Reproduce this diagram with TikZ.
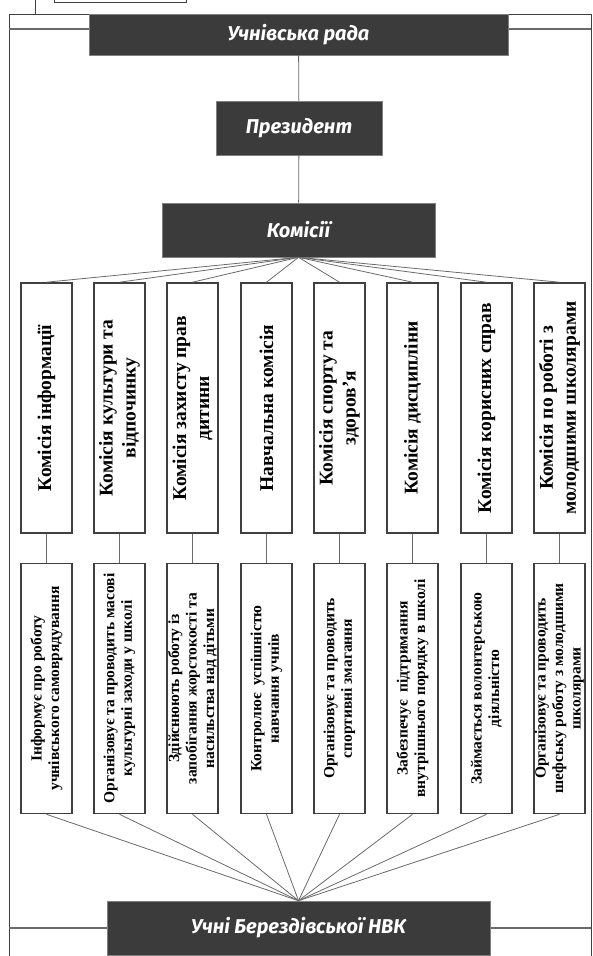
\documentclass[tikz,border=0pt]{standalone}
\usepackage{fontspec}
\setmainfont{Liberation Serif}
\newfontfamily\headfont{Fira Sans}
\definecolor{barfill}{HTML}{3B3B3B}
\definecolor{boxgray}{HTML}{404040}
\definecolor{linegray}{HTML}{6A6A6A}
\newcommand{\vlabel}[1]{\rotatebox{90}{\parbox{240pt}{\centering #1}}}

\begin{document}
\begin{tikzpicture}[x=1pt, y=-1pt]

\tikzset{bar/.style = {fill=barfill, draw=gray, line width=0.6pt, text=white, inner sep=0pt,
  minimum height=54pt, font=\headfont\bfseries\itshape\fontsize{20}{24}\selectfont}}
\tikzset{kbox/.style = {draw=boxgray, line width=1.6pt, fill=white, inner sep=0pt,
  minimum width=51pt, minimum height=250pt, font=\bfseries\fontsize{19.5}{23}\selectfont}}
\tikzset{dbox/.style = {kbox, font=\bfseries\fontsize{15.5}{17.5}\selectfont}}
\tikzset{edge/.style = {draw=linegray, line width=0.8pt}}

\useasboundingbox (0,0) rectangle (592,956);

% frame
\draw[boxgray, line width=0.8pt] (9,956) -- (9,14) -- (591,14) -- (591,956);
\draw[linegray, line width=1.2pt] (9,29) -- (591,29);
\draw[linegray, line width=1.2pt] (9,928) -- (591,928);
\draw[boxgray, line width=0.8pt] (54,-6) rectangle (186,2);
\draw[boxgray, line width=0.8pt] (35,0) -- (35,14);

% vertices
\node[bar, minimum width=419pt, minimum height=41pt] (rada) at (298.5,34.5) {Учнівська рада};
\node[bar, minimum width=166pt] (prez) at (299,128) {Президент};
\node[bar, minimum width=273pt] (kom) at (298.5,230) {Комісії};
\node[bar, minimum width=383pt] (uchni) at (298.5,928) {Учні Берездівської НВК};

\node[kbox] (k1) at (46.5,408) {\vlabel{Комісія інформації}};
\node[kbox] (k2) at (119.5,408) {\vlabel{Комісія культури та\\ відпочинку}};
\node[kbox] (k3) at (192.5,408) {\vlabel{Комісія захисту прав\\ дитини}};
\node[kbox] (k4) at (266.5,408) {\vlabel{Навчальна комісія}};
\node[kbox] (k5) at (339.5,408) {\vlabel{Комісія спорту та\\ здоров’я}};
\node[kbox] (k6) at (412.5,408) {\vlabel{Комісія дисципліни}};
\node[kbox] (k7) at (486.5,408) {\vlabel{Комісія корисних справ}};
\node[kbox] (k8) at (559.5,408) {\vlabel{Комісія по роботі з\\ молодшими школярами}};

\node[dbox] (d1) at (46.5,688.5) {\vlabel{Інформує про роботу\\ учнівського самоврядування}};
\node[dbox] (d2) at (119.5,688.5) {\vlabel{Організовує та проводить масові\\ культурні заходи у школі}};
\node[dbox] (d3) at (192.5,688.5) {\vlabel{Здійснюють роботу із\\ запобігання жорстокості та\\ насильства над дітьми}};
\node[dbox] (d4) at (266.5,688.5) {\vlabel{Контролює\enspace успішністю\\ навчання учнів}};
\node[dbox] (d5) at (339.5,688.5) {\vlabel{Організовує та проводить\\ спортивні змагання}};
\node[dbox] (d6) at (412.5,688.5) {\vlabel{Забезпечує\enspace підтримання\\ внутрішнього порядку в школі}};
\node[dbox] (d7) at (486.5,688.5) {\vlabel{Займається волонтерською\\ діяльністю}};
\node[dbox] (d8) at (559.5,688.5) {\vlabel{Організовує та проводить\\ шефську роботу з молодшими\\ школярами}};

%edges
\begin{scope}[every path/.style={edge}]
       \draw (rada) -- (prez);
       \draw (prez) -- (kom);
       \draw (kom.south) -- (k1.north);
       \draw (kom.south) -- (k2.north);
       \draw (kom.south) -- (k3.north);
       \draw (kom.south) -- (k4.north);
       \draw (kom.south) -- (k5.north);
       \draw (kom.south) -- (k6.north);
       \draw (kom.south) -- (k7.north);
       \draw (kom.south) -- (k8.north);
       \draw (k1) -- (d1);
       \draw (k2) -- (d2);
       \draw (k3) -- (d3);
       \draw (k4) -- (d4);
       \draw (k5) -- (d5);
       \draw (k6) -- (d6);
       \draw (k7) -- (d7);
       \draw (k8) -- (d8);
       \draw (d1.south) -- (uchni.north);
       \draw (d2.south) -- (uchni.north);
       \draw (d3.south) -- (uchni.north);
       \draw (d4.south) -- (uchni.north);
       \draw (d5.south) -- (uchni.north);
       \draw (d6.south) -- (uchni.north);
       \draw (d7.south) -- (uchni.north);
       \draw (d8.south) -- (uchni.north);
\end{scope}

\end{tikzpicture}
\end{document}
